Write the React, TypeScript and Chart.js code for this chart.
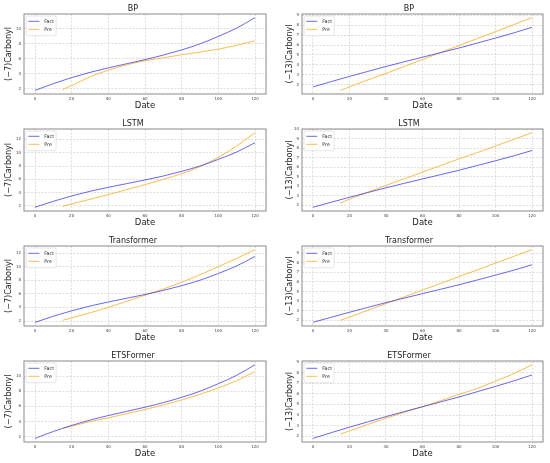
import React, { useEffect, useRef } from "react";
import { Chart, registerables } from "chart.js";

Chart.register(...registerables);

const FONT = "'DejaVu Sans', 'Liberation Sans', sans-serif";
const FACT_COLOR = "rgba(40, 40, 230, 0.7)";
const PRE_COLOR = "rgba(250, 165, 20, 0.75)";
const GRID_COLOR = "#d0d0d0";
const FRAME_COLOR = "#8a8a8a";
const TEXT_COLOR = "#222222";

// ---------------- data ----------------
const titles = ["BP", "LSTM", "Transformer", "ETSFormer"];
const yLabelLeft = "(−7)Carbonyl";
const yLabelRight = "(−13)Carbonyl";
const xLabel = "Date";
const seriesNames = ["Fact", "Pre"];

const factX = [0, 10, 20, 30, 40, 50, 60, 70, 80, 90, 100, 110, 120];
const preX = [15, 20, 30, 40, 50, 60, 70, 80, 90, 100, 110, 120];
const xTickValues = [0, 20, 40, 60, 80, 100, 120];

const factLeft = [1.8, 2.7, 3.5, 4.2, 4.8, 5.35, 5.9, 6.5, 7.2, 8.0, 9.0, 10.1, 11.5];
const factRight = [1.8, 2.33, 2.85, 3.35, 3.85, 4.32, 4.78, 5.24, 5.7, 6.2, 6.7, 7.22, 7.78];

const preBPLeft = [1.9, 2.45, 3.6, 4.5, 5.2, 5.75, 6.15, 6.55, 6.9, 7.3, 7.8, 8.4];
const preLSTMLeft = [1.95, 2.3, 3.0, 3.7, 4.45, 5.2, 6.0, 6.85, 7.9, 9.3, 11.0, 13.0];
const preTransformerLeft = [2.1, 2.45, 3.2, 4.0, 4.9, 5.8, 6.7, 7.7, 8.8, 10.0, 11.2, 12.5];
const preETSLeft = [3.1, 3.4, 4.0, 4.5, 5.05, 5.6, 6.2, 6.85, 7.6, 8.45, 9.4, 10.6];

const preBPRight = [1.45, 1.8, 2.5, 3.15, 3.85, 4.55, 5.25, 5.95, 6.65, 7.35, 8.05, 8.75];
const preLSTMRight = [2.25, 2.65, 3.4, 4.1, 4.8, 5.5, 6.2, 6.9, 7.55, 8.25, 8.95, 9.65];
const preTransformerRight = [2.0, 2.35, 3.05, 3.75, 4.45, 5.15, 5.85, 6.55, 7.25, 7.95, 8.65, 9.35];
const preETSRight = [2.2, 2.5, 3.1, 3.7, 4.25, 4.8, 5.35, 5.95, 6.5, 7.2, 7.9, 8.75];

const yTicksBPLeft = [2, 4, 6, 8, 10];
const yTicksLSTMLeft = [2, 4, 6, 8, 10, 12];
const yTicksTransformerLeft = [2, 4, 6, 8, 10, 12];
const yTicksETSLeft = [2, 4, 6, 8, 10];
const yTicksBPRight = [2, 3, 4, 5, 6, 7, 8, 9];
const yTicksLSTMRight = [2, 3, 4, 5, 6, 7, 8, 9, 10];
const yTicksTransformerRight = [2, 3, 4, 5, 6, 7, 8, 9];
const yTicksETSRight = [2, 3, 4, 5, 6, 7, 8, 9];

// ---------------- layout ----------------
const COL_W = 275;
const ROW_PLOT_TOP = [14, 129, 246, 361];
const ROW_PLOT_BOTTOM = [94, 211, 326, 442];
const TITLE_SPACE = 14;
const XAXIS_SPACE = 20;
const COL_YAXIS_W = [24, 27];
const COL_PAD_RIGHT = [9, 7];
const COL_YTITLE_PAD = [4.2, 10.2];

type Panel = {
  title: string;
  yLabel: string;
  factY: number[];
  preY: number[];
  yTicks: number[];
  row: number;
  col: number;
};

const panels: Panel[] = [
  { title: titles[0], yLabel: yLabelLeft, factY: factLeft, preY: preBPLeft, yTicks: yTicksBPLeft, row: 0, col: 0 },
  { title: titles[0], yLabel: yLabelRight, factY: factRight, preY: preBPRight, yTicks: yTicksBPRight, row: 0, col: 1 },
  { title: titles[1], yLabel: yLabelLeft, factY: factLeft, preY: preLSTMLeft, yTicks: yTicksLSTMLeft, row: 1, col: 0 },
  { title: titles[1], yLabel: yLabelRight, factY: factRight, preY: preLSTMRight, yTicks: yTicksLSTMRight, row: 1, col: 1 },
  { title: titles[2], yLabel: yLabelLeft, factY: factLeft, preY: preTransformerLeft, yTicks: yTicksTransformerLeft, row: 2, col: 0 },
  { title: titles[2], yLabel: yLabelRight, factY: factRight, preY: preTransformerRight, yTicks: yTicksTransformerRight, row: 2, col: 1 },
  { title: titles[3], yLabel: yLabelLeft, factY: factLeft, preY: preETSLeft, yTicks: yTicksETSLeft, row: 3, col: 0 },
  { title: titles[3], yLabel: yLabelRight, factY: factRight, preY: preETSRight, yTicks: yTicksETSRight, row: 3, col: 1 },
];

// Frame around the plot plus a matplotlib-style legend inside the top-left corner
const framePlugin = {
  id: "frameAndLegend",
  afterDatasetsDraw(chart: any) {
    const { ctx, chartArea: a } = chart;
    ctx.save();
    ctx.strokeStyle = FRAME_COLOR;
    ctx.lineWidth = 1;
    ctx.strokeRect(a.left, a.top, a.right - a.left, a.bottom - a.top);

    const fontSize = 4.8;
    ctx.font = `${fontSize}px ${FONT}`;
    const ds = chart.data.datasets;
    let maxText = 0;
    ds.forEach((d: any) => {
      maxText = Math.max(maxText, ctx.measureText(d.label).width);
    });
    const bx = a.left + 2;
    const by = a.top + 2;
    const lineStart = a.left + 4.3;
    const lineLen = 11;
    const textX = a.left + 20.3;
    const bw = textX + maxText + 2 - bx;
    const bh = 19.7;
    ctx.beginPath();
    if ((ctx as any).roundRect) (ctx as any).roundRect(bx, by, bw, bh, 1.5);
    else ctx.rect(bx, by, bw, bh);
    ctx.fillStyle = "rgba(255,255,255,0.9)";
    ctx.fill();
    ctx.strokeStyle = "#d4d4d4";
    ctx.lineWidth = 0.6;
    ctx.stroke();

    ds.forEach((d: any, i: number) => {
      const y = a.top + 7.3 + i * 8;
      ctx.beginPath();
      ctx.strokeStyle = d.borderColor;
      ctx.lineWidth = d.borderWidth;
      ctx.moveTo(lineStart, y);
      ctx.lineTo(lineStart + lineLen, y);
      ctx.stroke();
      ctx.fillStyle = TEXT_COLOR;
      ctx.textAlign = "left";
      ctx.textBaseline = "middle";
      ctx.fillText(d.label, textX, y);
    });
    ctx.restore();
  },
};

function PanelChart({ panel }: { panel: Panel }) {
  const ref = useRef<HTMLCanvasElement>(null);
  const top = ROW_PLOT_TOP[panel.row] - TITLE_SPACE;
  const height = ROW_PLOT_BOTTOM[panel.row] - ROW_PLOT_TOP[panel.row] + TITLE_SPACE + XAXIS_SPACE;
  const left = panel.col * COL_W;

  useEffect(() => {
    if (!ref.current) return;
    const allY = [...panel.factY, ...panel.preY];
    const yMin = Math.min(...allY);
    const yMax = Math.max(...allY);
    const yPad = (yMax - yMin) * 0.05;
    const allX = [...factX, ...preX];
    const xMin = Math.min(...allX);
    const xMax = Math.max(...allX);
    const xPad = (xMax - xMin) * 0.05;

    const chart = new Chart(ref.current, {
      type: "line",
      data: {
        datasets: [
          {
            label: seriesNames[0],
            data: factX.map((x, i) => ({ x, y: panel.factY[i] })),
            borderColor: FACT_COLOR,
            backgroundColor: FACT_COLOR,
            borderWidth: 1,
            pointRadius: 0,
            cubicInterpolationMode: "monotone",
            fill: false,
          },
          {
            label: seriesNames[1],
            data: preX.map((x, i) => ({ x, y: panel.preY[i] })),
            borderColor: PRE_COLOR,
            backgroundColor: PRE_COLOR,
            borderWidth: 1,
            pointRadius: 0,
            cubicInterpolationMode: "monotone",
            fill: false,
          },
        ],
      },
      options: {
        responsive: false,
        animation: false,
        events: [],
        layout: { padding: { left: 0, right: COL_PAD_RIGHT[panel.col], top: 0, bottom: 0 } },
        plugins: {
          tooltip: { enabled: false },
          legend: { display: false },
          title: {
            display: true,
            text: panel.title,
            color: TEXT_COLOR,
            font: { family: FONT, size: 8, weight: "normal", lineHeight: 1.2 },
            padding: { top: 4.3, bottom: 0.1 },
          },
        },
        scales: {
          x: {
            type: "linear",
            min: xMin - xPad,
            max: xMax + xPad,
            afterFit: (s: any) => {
              s.height = XAXIS_SPACE;
            },
            afterBuildTicks: (s: any) => {
              s.ticks = xTickValues.map((v) => ({ value: v }));
            },
            grid: { color: GRID_COLOR, lineWidth: 0.7, drawTicks: false },
            border: { display: false, dash: [2, 1.5] },
            ticks: { color: "#444", font: { family: FONT, size: 4 }, padding: 2.5, maxRotation: 0 },
            title: {
              display: true,
              text: xLabel,
              color: TEXT_COLOR,
              font: { family: FONT, size: 8.5 },
              padding: { top: 0, bottom: 2.9 },
            },
          },
          y: {
            type: "linear",
            min: yMin - yPad,
            max: yMax + yPad,
            afterFit: (s: any) => {
              s.width = COL_YAXIS_W[panel.col];
            },
            afterBuildTicks: (s: any) => {
              s.ticks = panel.yTicks.map((v) => ({ value: v }));
            },
            grid: { color: GRID_COLOR, lineWidth: 0.7, drawTicks: false },
            border: { display: false, dash: [2, 1.5] },
            ticks: { color: "#444", font: { family: FONT, size: 4 }, padding: 3 },
            title: {
              display: true,
              text: panel.yLabel,
              color: TEXT_COLOR,
              font: { family: FONT, size: 8 },
              padding: { top: COL_YTITLE_PAD[panel.col], bottom: 0 },
            },
          },
        },
      } as any,
      plugins: [framePlugin],
    });
    return () => chart.destroy();
  }, [panel]);

  return (
    <canvas
      ref={ref}
      width={COL_W}
      height={height}
      style={{ position: "absolute", left, top, width: COL_W, height }}
    />
  );
}

export default function App() {
  return (
    <div
      style={{
        position: "fixed",
        left: 0,
        top: 0,
        width: 550,
        height: 463,
        background: "#fff",
        overflow: "hidden",
      }}
    >
      {panels.map((p, i) => (
        <PanelChart key={i} panel={p} />
      ))}
    </div>
  );
}
